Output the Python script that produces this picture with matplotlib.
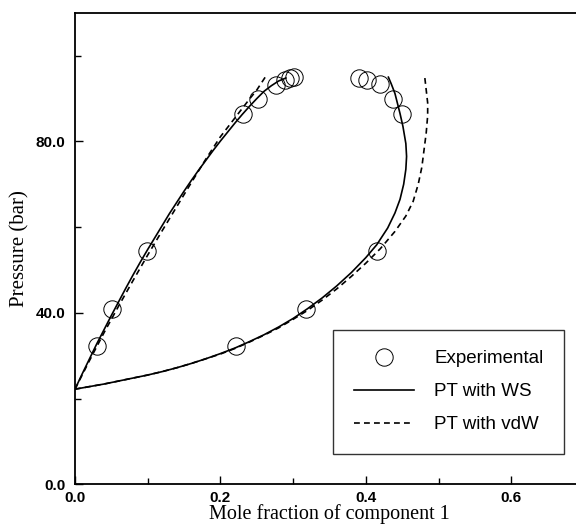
import numpy as np
import matplotlib
matplotlib.use('Agg')
import matplotlib.pyplot as plt
from matplotlib.ticker import MultipleLocator, FormatStrFormatter

# experimental points (mole fraction, pressure in bar)
exp_x = [0.030, 0.051, 0.099, 0.231, 0.252, 0.277, 0.289, 0.295, 0.301,
         0.391, 0.401, 0.419, 0.4375, 0.450, 0.416, 0.318, 0.222]
exp_y = [32.2, 40.9, 54.5, 86.5, 90.0, 93.1, 94.3, 94.8, 95.0,
         94.9, 94.3, 93.3, 90.0, 86.5, 54.5, 40.9, 32.2]

# PT with WS (solid), bubble and dew branches
ws_bub_x = [0.0, 0.01, 0.02, 0.03, 0.04, 0.05, 0.06, 0.07, 0.08, 0.09, 0.10,
            0.11, 0.12, 0.13, 0.14, 0.15, 0.16, 0.17, 0.18, 0.19, 0.20, 0.21,
            0.22, 0.23, 0.24, 0.25, 0.26, 0.27, 0.28, 0.29]
ws_bub_y = [22.2, 25.8, 29.3, 32.8, 36.1, 39.4, 42.6, 45.8, 48.9, 51.9, 54.8,
            57.6, 60.4, 63.2, 65.8, 68.4, 70.9, 73.3, 75.6, 77.9, 80.1, 82.2,
            84.3, 86.3, 88.2, 90.0, 91.7, 93.0, 94.1, 94.8]
ws_dew_x = [0.0, 0.02, 0.04, 0.06, 0.08, 0.10, 0.12, 0.14, 0.16, 0.18, 0.20,
            0.22, 0.24, 0.26, 0.28, 0.30, 0.32, 0.34, 0.36, 0.38, 0.40, 0.415,
            0.43, 0.44, 0.447, 0.452, 0.455, 0.456, 0.455, 0.451, 0.447,
            0.440, 0.435, 0.431]
ws_dew_y = [22.2, 22.8, 23.4, 24.1, 24.8, 25.5, 26.3, 27.2, 28.2, 29.3, 30.5,
            31.8, 33.3, 34.9, 36.7, 38.7, 41.0, 43.5, 46.3, 49.4, 52.9, 55.9,
            59.8, 63.3, 66.5, 70.0, 73.5, 76.5, 79.5, 83.5, 86.5,
            91.2, 93.4, 95.0]

# PT with vdW (dashed), bubble and dew branches
vdw_bub_x = [0.0, 0.02, 0.04, 0.06, 0.08, 0.10, 0.12, 0.14, 0.16, 0.18,
             0.20, 0.22, 0.24, 0.25, 0.255, 0.262]
vdw_bub_y = [22.2, 28.9, 35.4, 41.6, 47.6, 53.5, 59.2, 64.8, 70.4, 75.9,
             81.1, 85.5, 89.9, 92.0, 93.3, 95.1]
vdw_dew_x = [0.0, 0.02, 0.04, 0.06, 0.08, 0.10, 0.12, 0.14, 0.16, 0.18, 0.20,
             0.22, 0.24, 0.26, 0.28, 0.30, 0.32, 0.34, 0.36, 0.38, 0.40, 0.42,
             0.44, 0.455, 0.465, 0.472, 0.477, 0.480, 0.483, 0.485, 0.485,
             0.483, 0.481]
vdw_dew_y = [22.2, 22.8, 23.4, 24.1, 24.8, 25.5, 26.3, 27.2, 28.2, 29.3, 30.4,
             31.7, 33.2, 34.8, 36.5, 38.5, 40.6, 43.0, 45.6, 48.5, 51.6, 55.0,
             59.0, 62.6, 66.0, 70.0, 74.0, 78.0, 82.0, 86.0, 89.0,
             92.0, 95.0]

fig = plt.figure(figsize=(5.76, 5.25), dpi=100)
ax = fig.add_axes([75/576, 0.0775, 509/576, 0.898])

ax.plot(ws_bub_x, ws_bub_y, '-', color='black', lw=1.2, label='PT with WS')
ax.plot(ws_dew_x, ws_dew_y, '-', color='black', lw=1.2)
ax.plot(vdw_bub_x, vdw_bub_y, color='black', lw=1.2, dashes=(3.5, 2.5),
        label='PT with vdW')
ax.plot(vdw_dew_x, vdw_dew_y, color='black', lw=1.2, dashes=(3.5, 2.5))
ax.plot(exp_x, exp_y, 'o', ms=12.5, mfc='none', mec='black', mew=0.7,
        label='Experimental', zorder=3)

ax.set_xlim(0, 0.7)
ax.set_ylim(0, 110)
ax.xaxis.set_major_locator(MultipleLocator(0.2))
ax.xaxis.set_minor_locator(MultipleLocator(0.1))
ax.yaxis.set_major_locator(MultipleLocator(40))
ax.yaxis.set_minor_locator(MultipleLocator(20))
ax.xaxis.set_major_formatter(FormatStrFormatter('%.1f'))
ax.yaxis.set_major_formatter(FormatStrFormatter('%.1f'))
ax.tick_params(which='both', direction='in', top=False, right=False, width=1)
ax.tick_params(which='major', length=6)
ax.tick_params(which='minor', length=4)
ax.tick_params(axis='y', pad=7)
ax.tick_params(axis='x', pad=5)
for lab in ax.get_xticklabels() + ax.get_yticklabels():
    lab.set_fontfamily('Liberation Sans')
    lab.set_fontweight('bold')
    lab.set_fontsize(11)
for s in ax.spines.values():
    s.set_linewidth(1.3)

ax.set_xlabel('Mole fraction of component 1', family='Liberation Serif',
              fontsize=14.5, labelpad=-1)
ax.set_ylabel('Pressure (bar)', family='Liberation Serif', fontsize=15,
              labelpad=4)

h, l = ax.get_legend_handles_labels()
order = [2, 0, 1]
leg = ax.legend([h[i] for i in order], [l[i] for i in order],
                loc='lower right', bbox_to_anchor=(564/576, 71/525),
                bbox_transform=fig.transFigure, borderaxespad=0,
                frameon=True, fancybox=False,
                prop={'family': 'Liberation Sans', 'size': 13.5},
                handlelength=3.2, handletextpad=1.1, labelspacing=0.85,
                borderpad=1.1, edgecolor='black')
leg.get_frame().set_linewidth(1.0)

fig.savefig('out.png', dpi=100)
